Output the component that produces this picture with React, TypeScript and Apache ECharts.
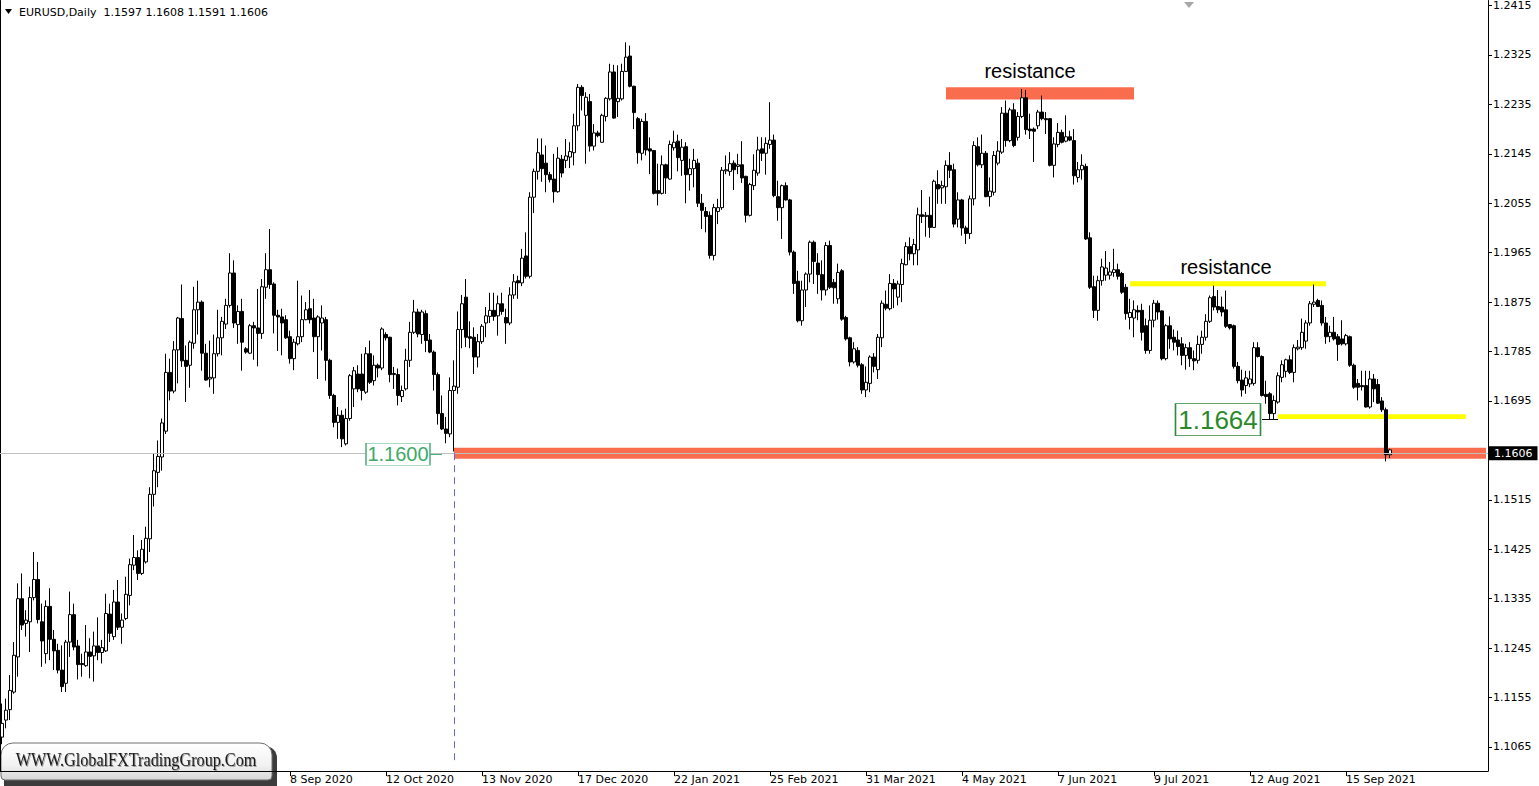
import React, { useEffect, useRef } from 'react';
import * as echarts from 'echarts';

// Daily EURUSD candles, prices in 1/10000 (pips)
const opens = [
  11083,11114,11133,11165,11229,11335,11290,11293,11337,11370,
  11293,11235,11321,11261,11241,11205,11181,11256,11306,11249,
  11217,11213,11238,11231,11249,11237,11240,11307,11266,11329,
  11283,11299,11341,11396,11410,11381,11402,11444,11525,11565,
  11593,11640,11747,11713,11788,11845,11769,11760,11800,11861,
  11875,11782,11735,11737,11781,11810,11835,11869,11928,11834,
  11858,11790,11782,11832,11828,11818,11902,11934,11908,11851,
  11848,11843,11812,11772,11799,11812,11843,11863,11846,11812,
  11837,11843,11769,11705,11656,11669,11617,11663,11717,11744,
  11744,11711,11781,11732,11760,11755,11816,11811,11743,11743,
  11703,11717,11769,11820,11857,11816,11854,11806,11784,11743,
  11672,11644,11635,11714,11720,11825,11884,11812,11811,11775,
  11803,11837,11849,11860,11850,11872,11847,11837,11888,11914,
  11910,11959,11922,12066,12113,12143,12128,12107,12099,12076,
  12135,12133,12139,12147,12196,12266,12215,12240,12159,12183,
  12166,12213,12245,12294,12240,12245,12295,12323,12268,12209,
  12146,12204,12154,12151,12078,12073,12125,12099,12156,12168,
  12133,12158,12107,12118,12128,12055,12040,12033,11960,12040,
  12047,12114,12113,12128,12122,12125,12104,12033,12087,12110,
  12154,12146,12162,12170,12067,12047,12087,12061,11966,11913,
  11841,11897,11926,11984,11946,11925,11897,11978,11911,11881,
  11932,11847,11810,11766,11787,11761,11715,11727,11775,11752,
  11810,11871,11863,11909,11884,11907,11943,11976,11963,11970,
  12034,12031,12033,12011,12089,12083,12085,12124,12116,12026,
  12061,12010,12000,12063,12158,12125,12146,12067,12075,12128,
  12148,12219,12169,12225,12175,12213,12247,12190,12190,12196,
  12221,12209,12209,12124,12162,12184,12168,12176,12169,12102,
  12116,12122,11992,11903,11860,11914,11924,11924,11929,11934,
  11927,11902,11847,11846,11860,11860,11832,11787,11842,11873,
  11859,11772,11832,11811,11806,11799,11778,11792,11772,11769,
  11798,11811,11840,11885,11867,11866,11861,11834,11832,11758,
  11733,11723,11726,11727,11792,11776,11707,11708,11672,11693,
  11738,11749,11770,11747,11790,11792,11804,11837,11871,11878,
  11869,11837,11812,11820,11812,11808,11799,11812,11760,11727,
  11723,11723,11684,11735,11725,11695,11679,11597
];
const highs = [
  11144,11153,11196,11256,11363,11381,11314,11357,11420,11402,
  11326,11332,11354,11278,11253,11250,11260,11348,11326,11260,
  11235,11287,11263,11275,11301,11260,11344,11326,11351,11369,
  11308,11375,11408,11451,11423,11442,11466,11538,11599,11623,
  11663,11781,11772,11804,11848,11907,11796,11805,11903,11914,
  11878,11799,11805,11816,11861,11848,11881,11964,11951,11869,
  11881,11793,11835,11839,11899,11917,11964,12008,11911,11861,
  11863,11851,11823,11808,11914,11887,11875,11897,11881,11851,
  11869,11848,11772,11708,11684,11678,11681,11744,11757,11760,
  11781,11793,11805,11778,11763,11829,11820,11812,11757,11754,
  11723,11790,11839,11879,11863,11861,11860,11817,11787,11747,
  11705,11666,11738,11769,11858,11888,11917,11840,11829,11817,
  11835,11866,11892,11892,11887,11892,11863,11902,11926,11923,
  11972,12002,12075,12118,12173,12173,12160,12112,12145,12157,
  12143,12172,12166,12218,12272,12270,12257,12254,12199,12187,
  12218,12248,12309,12307,12306,12309,12348,12342,12269,12212,
  12209,12219,12175,12152,12127,12142,12127,12169,12187,12180,
  12172,12166,12136,12154,12136,12072,12048,12040,12054,12063,
  12121,12142,12148,12133,12145,12168,12105,12092,12144,12176,
  12175,12175,12239,12180,12096,12089,12093,12063,11969,11932,
  11914,11929,11987,11987,11964,11951,11984,11987,11917,11945,
  11935,11850,11812,11802,11793,11764,11758,11778,11782,11817,
  11878,11896,11926,11917,11914,11954,11984,11993,11990,12047,
  12079,12039,12067,12098,12115,12096,12133,12148,12127,12075,
  12063,12014,12069,12168,12175,12180,12150,12102,12150,12168,
  12230,12242,12229,12237,12221,12263,12261,12218,12193,12225,
  12251,12221,12210,12175,12201,12189,12215,12187,12190,12130,
  12144,12127,12002,11923,11923,11954,11968,11948,11972,11945,
  11930,11908,11881,11878,11869,11872,11845,11869,11879,11878,
  11860,11835,11849,11825,11823,11811,11799,11802,11787,11814,
  11823,11853,11887,11905,11897,11885,11896,11835,11834,11766,
  11752,11750,11750,11802,11802,11778,11732,11711,11705,11747,
  11769,11772,11778,11798,11806,11845,11842,11877,11907,11881,
  11878,11848,11832,11848,11817,11842,11817,11814,11763,11735,
  11750,11750,11750,11744,11735,11702,11683,11608
];
const lows = [
  11070,11099,11114,11162,11193,11278,11266,11238,11332,11290,
  11211,11217,11223,11205,11199,11165,11165,11229,11241,11188,
  11193,11211,11190,11184,11223,11217,11238,11256,11260,11278,
  11253,11296,11323,11387,11369,11378,11399,11420,11503,11538,
  11568,11635,11696,11709,11727,11757,11693,11719,11790,11816,
  11750,11732,11720,11708,11776,11778,11826,11865,11828,11799,
  11750,11781,11781,11770,11758,11808,11881,11899,11818,11786,
  11778,11808,11763,11751,11796,11802,11842,11836,11784,11735,
  11787,11732,11699,11647,11626,11611,11614,11659,11684,11711,
  11696,11708,11726,11723,11738,11751,11805,11729,11717,11687,
  11693,11714,11757,11817,11811,11799,11784,11782,11714,11652,
  11642,11618,11629,11603,11708,11791,11793,11791,11744,11756,
  11799,11811,11837,11841,11814,11852,11799,11833,11881,11881,
  11904,11918,11918,12037,12098,12094,12075,12093,12056,12074,
  12102,12119,12119,12124,12187,12224,12127,12149,12151,12175,
  12165,12204,12242,12209,12212,12242,12294,12266,12190,12127,
  12133,12142,12108,12071,12051,12071,12072,12098,12151,12113,
  12105,12055,12078,12084,12048,12008,12002,11954,11951,12017,
  12043,12108,12105,12079,12108,12092,12020,12031,12079,12105,
  12132,12107,12154,12066,12023,11990,12060,11960,11890,11838,
  11832,11866,11911,11908,11890,11878,11887,11899,11872,11872,
  11841,11805,11758,11763,11756,11708,11702,11711,11747,11735,
  11793,11860,11860,11864,11869,11875,11942,11951,11942,11942,
  12019,11994,11992,12010,12054,12054,12054,12101,12011,12011,
  11996,11981,11990,12051,12122,12119,12066,12049,12069,12124,
  12145,12158,12166,12157,12169,12210,12180,12172,12130,12190,
  12206,12181,12122,12102,12157,12164,12166,12168,12089,12093,
  12098,11988,11899,11846,11841,11905,11914,11916,11921,11916,
  11890,11843,11825,11811,11842,11805,11781,11781,11829,11843,
  11769,11769,11790,11787,11778,11760,11752,11757,11751,11763,
  11781,11805,11837,11860,11855,11849,11828,11825,11754,11727,
  11703,11708,11720,11723,11774,11703,11690,11662,11662,11690,
  11729,11738,11744,11729,11787,11788,11790,11832,11866,11866,
  11832,11799,11802,11805,11768,11796,11796,11757,11717,11696,
  11714,11683,11681,11693,11690,11675,11585,11591
];
const closes = [
  11108,11132,11168,11232,11335,11287,11296,11337,11370,11297,
  11258,11321,11261,11240,11205,11175,11256,11306,11247,11215,
  11215,11238,11230,11249,11237,11246,11308,11272,11329,11283,
  11296,11343,11397,11410,11381,11425,11445,11525,11568,11594,
  11655,11747,11713,11788,11846,11768,11758,11802,11861,11875,
  11782,11733,11738,11781,11810,11840,11869,11928,11837,11858,
  11802,11784,11832,11828,11818,11903,11934,11907,11851,11848,
  11837,11810,11772,11802,11812,11843,11861,11843,11812,11848,
  11846,11769,11705,11656,11669,11626,11663,11741,11750,11717,
  11714,11781,11729,11760,11755,11826,11810,11743,11745,11705,
  11714,11769,11820,11857,11817,11857,11805,11784,11743,11672,
  11644,11636,11714,11722,11825,11872,11811,11809,11775,11803,
  11831,11850,11860,11849,11872,11858,11837,11888,11912,11910,
  11955,11922,12066,12113,12147,12118,12107,12098,12076,12137,
  12110,12141,12149,12196,12266,12251,12248,12159,12183,12178,
  12215,12246,12294,12210,12246,12295,12321,12268,12220,12147,
  12204,12152,12150,12073,12073,12125,12101,12162,12166,12138,
  12157,12107,12118,12133,12055,12042,12031,11960,12047,12047,
  12115,12116,12127,12116,12125,12101,12033,12089,12115,12152,
  12146,12164,12170,12069,12047,12087,12061,11966,11909,11841,
  11897,11926,11984,11949,11925,11897,11978,11902,11901,11929,
  11844,11808,11766,11790,11760,11715,11729,11775,11758,11811,
  11873,11864,11909,11899,11908,11945,11976,11963,11980,12034,
  12031,12033,12011,12095,12081,12087,12124,12115,12017,12061,
  12010,12000,12063,12160,12125,12146,12067,12077,12142,12150,
  12219,12169,12225,12160,12213,12247,12189,12187,12186,12221,
  12209,12207,12124,12163,12184,12166,12176,12170,12105,12116,
  12124,11990,11902,11860,11914,11939,11937,11930,11934,11922,
  11893,11854,11856,11861,11857,11820,11787,11842,11873,11857,
  11772,11832,11808,11802,11794,11778,11792,11772,11768,11798,
  11811,11840,11883,11866,11861,11857,11831,11828,11758,11732,
  11715,11737,11735,11792,11776,11705,11703,11672,11696,11741,
  11761,11770,11747,11792,11793,11820,11837,11872,11875,11867,
  11837,11812,11820,11808,11798,11799,11814,11760,11720,11720,
  11721,11684,11735,11717,11691,11679,11597,11606
];

const SLOT_COUNT = 372; // bar slots across the chart width (incl. empty right margin)
const dateLabels = ['8 Sep 2020','12 Oct 2020','13 Nov 2020','17 Dec 2020','22 Jan 2021','25 Feb 2021','31 Mar 2021','4 May 2021','7 Jun 2021','9 Jul 2021','12 Aug 2021','15 Sep 2021'];
const dateLabelIndex = [72, 96, 120, 144, 168, 192, 216, 240, 264, 288, 312, 336];
const priceTicks = [1.2415, 1.2325, 1.2235, 1.2145, 1.2055, 1.1965, 1.1875, 1.1785, 1.1695, 1.1515, 1.1425, 1.1335, 1.1245, 1.1155, 1.1065];
const yMin = 1.10213;
const yMax = 1.24241;

const lastPrice = 1.1606;
const supportPrice = 1.1600;
const supportStartBar = 113;
const resistanceHigh = { from: 236, to: 283, low: 1.2244, high: 1.2266 };
const resistanceMid = { from: 282, to: 331, low: 1.1904, high: 1.1913 };
const level1664 = { from: 319, to: 366, low: 1.1662, high: 1.1671 };
const supportBand = { from: 113, to: 371.5, low: 1.1590, high: 1.1610 };

const FONT = 'DejaVu Sans';

export default function App() {
  const ref = useRef<HTMLDivElement>(null);

  useEffect(() => {
    document.body.style.margin = '0';
    const chart = echarts.init(ref.current!, null, { renderer: 'svg' });
    const categories = Array.from({ length: SLOT_COUNT }, (_, i) => String(i));
    const candles = opens.map((o, i) => [o / 10000, closes[i] / 10000, lows[i] / 10000, highs[i] / 10000]);
    const n = opens.length - 1;
    const header = `EURUSD,Daily  ${(opens[n] / 10000).toFixed(4)} ${(highs[n] / 10000).toFixed(4)} ${(lows[n] / 10000).toFixed(4)} ${(closes[n] / 10000).toFixed(4)}`;
    const showDate = (i: number) => dateLabelIndex.indexOf(i) >= 0;

    const area = (r: any, color: string, label?: string, offset?: number[]) => [
      {
        xAxis: r.from, yAxis: r.low,
        itemStyle: { color, opacity: 1 },
        label: label
          ? { show: true, position: 'top', formatter: label, color: '#000', fontSize: 20, fontFamily: 'Liberation Sans', distance: 4, offset: offset || [0, 0] }
          : { show: false },
      },
      { xAxis: r.to, yAxis: r.high },
    ];

    const option: any = {
      animation: false,
      backgroundColor: '#fff',
      grid: { left: 0, right: 51, top: 0, bottom: 15, containLabel: false },
      xAxis: {
        type: 'category',
        data: categories,
        boundaryGap: true,
        axisLine: { show: true, lineStyle: { color: '#000', width: 1 } },
        axisTick: { show: true, alignWithLabel: true, interval: (i: number) => showDate(i), length: 5, lineStyle: { color: '#000' } },
        axisLabel: {
          show: true,
          interval: (i: number) => showDate(i),
          formatter: (v: string) => {
            const j = dateLabelIndex.indexOf(Number(v));
            return j >= 0 ? dateLabels[j] : '';
          },
          align: 'left',
          margin: 3,
          color: '#000',
          fontSize: 11,
          fontFamily: FONT,
        },
        splitLine: { show: false },
      },
      yAxis: [
        {
          type: 'value',
          position: 'right',
          min: yMin,
          max: yMax,
          scale: true,
          axisLine: { show: true, lineStyle: { color: '#000', width: 1 } },
          axisTick: { show: true, customValues: priceTicks, length: 4, lineStyle: { color: '#000' } },
          axisLabel: {
            show: true,
            customValues: priceTicks,
            formatter: (v: number) => v.toFixed(4),
            color: '#000',
            fontSize: 11,
            fontFamily: FONT,
            margin: 5,
          },
          splitLine: { show: false },
        },
        {
          type: 'value',
          position: 'left',
          min: yMin,
          max: yMax,
          axisLine: { show: true, lineStyle: { color: '#000', width: 1 } },
          axisTick: { show: false },
          axisLabel: { show: false },
          splitLine: { show: false },
        },
      ],
      series: [
        {
          type: 'candlestick',
          data: candles,
          barWidth: 3,
          large: false,
          itemStyle: {
            color: '#ffffff',
            color0: '#000000',
            borderColor: '#000000',
            borderColor0: '#000000',
            borderWidth: 1,
          },
          emphasis: { disabled: true },
          markArea: {
            silent: true,
            itemStyle: { opacity: 1 },
            data: [
              area(resistanceHigh, '#FA6C4E', 'resistance', [-10, -2]),
              area(resistanceMid, '#FFFF00', 'resistance', [-2, 0]),
              area(level1664, '#FFFF00'),
              area(supportBand, '#FA6C4E'),
            ],
          },
          markLine: {
            silent: true,
            symbol: ['none', 'none'],
            animation: false,
            data: [
              {
                yAxis: lastPrice,
                lineStyle: { color: '#C0C0C0', width: 1, type: 'solid' },
                label: {
                  show: true,
                  position: 'end',
                  formatter: lastPrice.toFixed(4),
                  backgroundColor: '#000',
                  color: '#fff',
                  padding: [2, 5, 1, 5],
                  fontSize: 11,
                  fontFamily: FONT,
                  distance: 1,
                },
              },
              [
                { coord: [String(supportStartBar), supportPrice], lineStyle: { color: '#6A6AD0', width: 1, type: [7, 5] }, label: { show: false } },
                { coord: [String(supportStartBar), 1.1041] },
              ],
              [
                { coord: ['107', 1.1598], lineStyle: { color: '#4CAF7A', width: 1, type: 'solid' }, label: { show: false } },
                { coord: ['110', 1.1598] },
              ],
              [
                { coord: ['315', 1.1661], lineStyle: { color: '#000', width: 1, type: 'solid' }, label: { show: false } },
                { coord: ['319', 1.1661] },
              ],
            ],
          },
          markPoint: {
            silent: true,
            data: [
              {
                coord: ['99', 1.1598],
                symbol: 'rect',
                symbolSize: [64, 22],
                itemStyle: { color: '#fff', borderColor: '#5FB58A', borderWidth: 1 },
                label: { show: true, position: 'inside', formatter: supportPrice.toFixed(4), color: '#3DAA66', fontSize: 20, fontFamily: 'Liberation Sans' },
              },
              {
                coord: ['304', 1.1661],
                symbol: 'rect',
                symbolSize: [85, 32],
                itemStyle: { color: '#fff', borderColor: '#2E8B3E', borderWidth: 1 },
                label: { show: true, position: 'inside', formatter: '1.1664', color: '#2A8A2A', fontSize: 26, fontFamily: 'Liberation Sans' },
              },
            ],
          },
        },
      ],
      graphic: [
        { type: 'polygon', shape: { points: [[5, 9], [12, 9], [8.5, 14]] }, style: { fill: '#000' } },
        { type: 'text', x: 19, y: 12, style: { text: header, fill: '#000', font: `11px "${FONT}"`, textVerticalAlign: 'middle' } },
        { type: 'polygon', shape: { points: [[1184, 2], [1194, 2], [1189, 8]] }, style: { fill: '#A8A8A8' } },
        {
          type: 'group',
          children: [
            { type: 'rect', shape: { x: 4, y: 746, width: 273, height: 44, r: [12, 12, 0, 0] }, style: { fill: '#3C3C3C' } },
            {
              type: 'rect',
              shape: { x: 1, y: 743, width: 271, height: 37, r: [12, 12, 4, 4] },
              style: {
                fill: new echarts.graphic.LinearGradient(0, 0, 0, 1, [
                  { offset: 0, color: '#ffffff' },
                  { offset: 0.6, color: '#f2f2f2' },
                  { offset: 1, color: '#d6d6d6' },
                ]),
                stroke: '#6E6E6E',
                lineWidth: 1,
              },
            },
            {
              type: 'text',
              x: 136,
              y: 760,
              scaleX: 0.9,
              originX: 0,
              originY: 0,
              style: {
                text: 'WWW.GlobalFXTradingGroup.Com',
                fill: '#1A1A1A',
                font: '18px "Liberation Serif"',
                textAlign: 'center',
                textVerticalAlign: 'middle',
                textShadowColor: 'rgba(0,0,0,0.35)',
                textShadowBlur: 1,
                textShadowOffsetX: 1,
                textShadowOffsetY: 1,
              },
            },
          ],
        },
      ],
    };

    chart.setOption(option);
    return () => chart.dispose();
  }, []);

  return <div ref={ref} style={{ width: 1539, height: 786, background: '#fff' }} />;
}
